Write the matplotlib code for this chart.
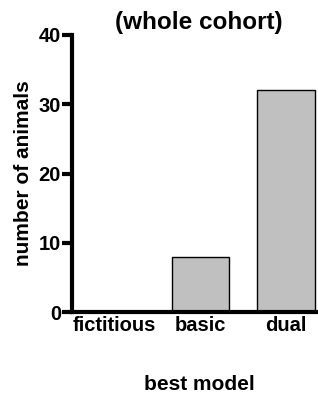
import matplotlib
matplotlib.use("Agg")
import matplotlib.pyplot as plt

categories = ["fictitious", "basic", "dual"]
counts = [0, 8, 32]
yticks = [0, 10, 20, 30, 40]

plt.rcParams['font.family'] = ['Liberation Sans', 'DejaVu Sans']
plt.rcParams['font.weight'] = 'bold'

fig = plt.figure(figsize=(3.18, 3.95), dpi=100)
ax = fig.add_axes([72/318, 1-312/395, (318-72)/318 + 0.02, 277/395])
x = list(range(len(categories)))
ax.bar(x, counts, width=0.67, color='#c0c0c0', edgecolor='black', linewidth=1.0, zorder=2)
ax.set_xlim(-0.5, 2.45)
ax.set_ylim(0, 40)
ax.set_yticks(yticks)
ax.set_xticks(x)
ax.set_xticklabels(categories)
for s in ['top', 'right']:
    ax.spines[s].set_visible(False)
for s in ['left', 'bottom']:
    ax.spines[s].set_linewidth(3)
    ax.spines[s].set_zorder(3)
ax.tick_params(axis='y', length=7, width=3, labelsize=14.5, pad=1)
ax.tick_params(axis='x', length=0, labelsize=14.5, pad=3)
for lab in ax.get_xticklabels() + ax.get_yticklabels():
    lab.set_fontweight('bold')
ax.set_ylabel("number of animals", fontsize=15, fontweight='bold', labelpad=4)
fig.text(199/318, 1-385/395, "best model", ha='center', va='center', fontsize=15, fontweight='bold')
fig.text(199/318, 1-23/395, "(whole cohort)", ha='center', va='center', fontsize=17.5, fontweight='bold')
fig.text(199/318, 1.0 + 0.5/395, "models", ha='center', va='baseline', fontsize=17.5, fontweight='bold', color='#999999')
fig.savefig("out.png", dpi=100)
